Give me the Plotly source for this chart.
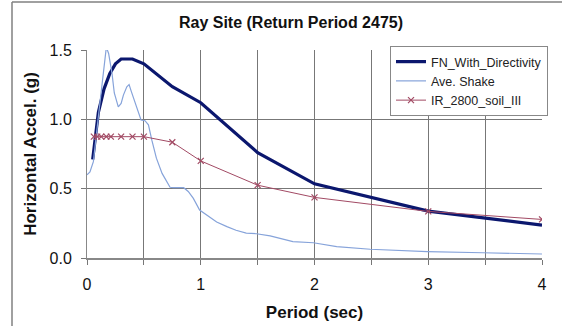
import plotly.graph_objects as go

# ---- data ----
fn_x = [0.05, 0.075, 0.1, 0.15, 0.2, 0.25, 0.3, 0.4, 0.5, 0.75, 1.0, 1.5, 2.0, 3.0, 4.0]
fn_y = [0.71, 0.90, 1.05, 1.22, 1.33, 1.40, 1.435, 1.435, 1.40, 1.235, 1.12, 0.76, 0.535, 0.338, 0.237]

shake_x = [0, 0.026, 0.056, 0.08, 0.10, 0.13, 0.15, 0.17, 0.19, 0.22, 0.24, 0.275, 0.30,
           0.32, 0.35, 0.37, 0.39, 0.41, 0.44, 0.475, 0.51, 0.54, 0.57, 0.61, 0.66, 0.70,
           0.73, 0.76, 0.85, 0.89, 0.935, 0.99, 1.05, 1.14, 1.23, 1.31, 1.40, 1.49, 1.61,
           1.81, 1.99, 2.195, 2.49, 2.99, 3.48, 4.0]
shake_y = [0.60, 0.62, 0.695, 0.85, 1.02, 1.235, 1.40, 1.52, 1.475, 1.33, 1.19, 1.09, 1.115,
           1.175, 1.235, 1.25, 1.20, 1.15, 1.07, 0.995, 0.99, 0.96, 0.85, 0.72, 0.61, 0.55,
           0.51, 0.507, 0.507, 0.48, 0.43, 0.346, 0.31, 0.26, 0.226, 0.20, 0.18, 0.175, 0.159,
           0.118, 0.11, 0.082, 0.063, 0.046, 0.038, 0.029]

ir_x = [0.06, 0.09, 0.125, 0.17, 0.21, 0.3, 0.4, 0.5, 0.75, 1.0, 1.5, 2.0, 3.0, 4.0]
ir_y = [0.875, 0.875, 0.875, 0.875, 0.875, 0.875, 0.875, 0.875, 0.835, 0.70, 0.525, 0.437, 0.336, 0.278]

x_tickvals = [0, 0.5, 1, 1.5, 2, 2.5, 3, 3.5, 4]
x_ticktext = ["0", "", "1", "", "2", "", "3", "", "4"]
y_tickvals = [0, 0.5, 1.0, 1.5]
y_ticktext = ["0.0", "0.5", "1.0", "1.5"]

W, H = 562, 326
L, R, T, B = 87, 20, 50, 68
pw, ph = W - L - R, H - T - B


def px_x(p):
    return (p - L) / pw


def px_y(p):
    return (T + ph - p) / ph


fig = go.Figure()
fig.add_trace(go.Scatter(x=fn_x, y=fn_y, mode="lines", name="FN_With_Directivity",
                         line=dict(color="#0b176e", width=3.2)))
fig.add_trace(go.Scatter(x=shake_x, y=shake_y, mode="lines", name="Ave. Shake",
                         line=dict(color="#86a3da", width=1.2)))
fig.add_trace(go.Scatter(x=ir_x, y=ir_y, mode="lines+markers", name="IR_2800_soil_III",
                         line=dict(color="#a24a64", width=1),
                         marker=dict(symbol="x-thin", size=6, line=dict(color="#a24a64", width=1.2))))

font = "Liberation Sans, Arial, sans-serif"
frame = dict(color="#808080", width=1.5)
fig.update_layout(
    width=W, height=H,
    margin=dict(l=L, r=R, t=T, b=B, autoexpand=False),
    paper_bgcolor="white", plot_bgcolor="white",
    font=dict(family=font, color="#111"),
    title=dict(text="<b>Ray Site (Return Period 2475)</b>", x=291 / W, xanchor="center",
               xref="container", y=1 - 22 / H, yanchor="middle", yref="container",
               font=dict(size=16, color="#111")),
    showlegend=True,
    legend=dict(x=px_x(390), y=px_y(46), xanchor="left", yanchor="top",
                bgcolor="white", bordercolor="#888", borderwidth=1,
                font=dict(size=12.5, color="#222"), itemwidth=30,
                tracegroupgap=0),
    xaxis=dict(range=[0, 4], tickvals=x_tickvals, ticktext=x_ticktext,
               showgrid=True, gridcolor="#777", gridwidth=1,
               showline=True, linecolor="#888", linewidth=2,
               ticks="outside", ticklen=5, tickcolor="#777",
               tickfont=dict(size=16), ticklabelstandoff=6,
               zeroline=False, automargin=False,
               title=dict(text="<b>Period (sec)</b>", font=dict(size=17), standoff=14)),
    yaxis=dict(range=[0, 1.5], tickvals=y_tickvals, ticktext=y_ticktext,
               showgrid=True, gridcolor="#777", gridwidth=1,
               showline=True, linecolor="#888", linewidth=1,
               ticks="outside", ticklen=5, tickcolor="#777",
               tickfont=dict(size=16), ticklabelstandoff=6,
               zeroline=False, automargin=False,
               title=dict(text="<b>Horizontal Accel. (g)</b>", font=dict(size=17), standoff=8)),
    shapes=[
        dict(type="line", xref="paper", yref="paper",
             x0=px_x(12), x1=px_x(12), y0=px_y(H), y1=px_y(2), line=frame, layer="above"),
        dict(type="line", xref="paper", yref="paper",
             x0=px_x(12), x1=px_x(W), y0=px_y(2), y1=px_y(2), line=frame, layer="above"),
    ],
)

fig.write_html("out.html", config={"displayModeBar": False},
               post_script="document.body.style.margin='0';")
